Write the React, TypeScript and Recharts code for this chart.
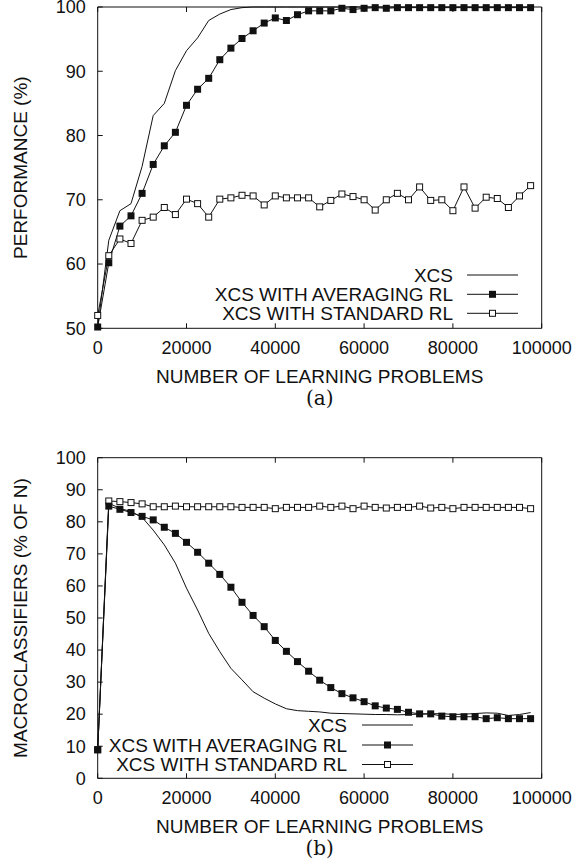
import React from 'react';
import { LineChart, Line, XAxis, YAxis } from 'recharts';

const X_STEPS = [
  0, 2500, 5000, 7500, 10000, 12500, 15000, 17500, 20000, 22500,
  25000, 27500, 30000, 32500, 35000, 37500, 40000, 42500, 45000, 47500,
  50000, 52500, 55000, 57500, 60000, 62500, 65000, 67500, 70000, 72500,
  75000, 77500, 80000, 82500, 85000, 87500, 90000, 92500, 95000, 97500,
];

const X_TICKS = [0, 20000, 40000, 60000, 80000, 100000];
const Y_TICKS_A = [50, 60, 70, 80, 90, 100];
const Y_TICKS_B = [0, 10, 20, 30, 40, 50, 60, 70, 80, 90, 100];

// (a) performance
const XCS_A = [
  50.2, 63.7, 68.3, 69.4, 75.2, 83.1, 85.0, 90.1, 93.2, 95.2,
  97.9, 98.9, 99.6, 99.9, 100, 100, 100, 100, 100, 100,
  100, 100, 100, 100, 100, 100, 100, 100, 100, 100,
  100, 100, 100, 100, 100, 100, 100, 100, 100, 100,
];
const AVG_A = [
  50.2, 60.2, 65.9, 67.5, 71.0, 75.5, 78.4, 80.5, 84.7, 87.2,
  88.9, 91.8, 93.6, 95.1, 96.3, 97.5, 98.3, 97.9, 98.8, 99.4,
  99.4, 99.4, 99.8, 99.6, 99.8, 99.9, 99.8, 99.9, 99.9, 99.9,
  99.9, 99.9, 99.9, 99.9, 99.9, 99.9, 99.9, 99.9, 99.9, 99.9,
];
const STD_A = [
  52.0, 61.3, 63.9, 63.2, 66.8, 67.3, 68.8, 67.7, 70.1, 69.4,
  67.3, 70.1, 70.3, 70.7, 70.6, 69.2, 70.6, 70.3, 70.3, 70.3,
  68.9, 69.9, 70.9, 70.5, 70.0, 68.4, 70.0, 71.0, 70.0, 72.0,
  69.9, 70.0, 68.3, 72.0, 68.7, 70.4, 70.2, 68.8, 70.6, 72.2,
];

// (b) macroclassifiers
const XCS_B = [
  8.9, 85.8, 84.2, 83.2, 81.4, 77.4, 72.8, 67.1, 59.3, 52.5,
  45.2, 39.5, 34.3, 30.7, 27.0, 25.0, 23.2, 21.7, 21.1, 20.9,
  20.7, 20.3, 20.2, 20.1, 20.0, 19.9, 19.9, 19.8, 19.9, 20.0,
  20.1, 20.2, 19.9, 20.0, 20.2, 20.4, 20.3, 19.6, 19.9, 20.5,
];
const AVG_B = [
  8.9, 84.9, 83.9, 82.9, 81.7, 80.6, 78.3, 76.4, 73.6, 70.5,
  67.1, 63.6, 59.6, 54.9, 50.8, 47.3, 43.0, 39.6, 36.4, 33.4,
  30.6, 28.3, 26.4, 25.1, 23.9, 22.6, 21.9, 21.5, 20.6, 20.1,
  20.1, 19.4, 19.2, 19.2, 19.2, 18.6, 18.9, 18.6, 18.6, 18.6,
];
const STD_B = [
  8.9, 86.5, 86.3, 86.0, 85.6, 84.7, 84.7, 84.9, 84.7, 84.7,
  84.7, 84.7, 84.7, 84.5, 84.5, 84.5, 84.1, 84.5, 84.5, 84.5,
  84.9, 84.5, 84.9, 84.1, 84.9, 84.5, 84.3, 84.5, 84.5, 84.9,
  84.3, 84.5, 84.1, 84.5, 84.5, 84.5, 84.5, 84.5, 84.5, 84.1,
];

const SERIES_NAMES = ['XCS', 'XCS WITH AVERAGING RL', 'XCS WITH STANDARD RL'];

const SANS = '"Liberation Sans", Arial, Helvetica, sans-serif';
const SERIF = '"DejaVu Serif", "Liberation Serif", serif';
const INK = '#111';
const TICK_FS = 18;
const LABEL_FS = 19;
const TICK_LEN = 5;

const dataA = X_STEPS.map((x, i) => ({ x, xcs: XCS_A[i], avg: AVG_A[i], std: STD_A[i] }));
const dataB = X_STEPS.map((x, i) => ({ x, xcs: XCS_B[i], avg: AVG_B[i], std: STD_B[i] }));

const BottomTick = (p: any) => (
  <g>
    <line x1={p.x} y1={p.y} x2={p.x} y2={p.y - TICK_LEN} stroke={INK} strokeWidth={1} />
    <text x={p.x} y={p.y + 25.5} textAnchor="middle" fontSize={TICK_FS} fontFamily={SANS} fill={INK}>
      {p.payload.value}
    </text>
  </g>
);
const TopTick = (p: any) => (
  <line x1={p.x} y1={p.y} x2={p.x} y2={p.y + TICK_LEN} stroke={INK} strokeWidth={1} />
);
const LeftTick = (p: any) => (
  <g>
    <line x1={p.x} y1={p.y} x2={p.x + TICK_LEN} y2={p.y} stroke={INK} strokeWidth={1} />
    <text x={p.x - 12} y={p.y} dy="0.35em" textAnchor="end" fontSize={TICK_FS} fontFamily={SANS} fill={INK}>
      {p.payload.value}
    </text>
  </g>
);
const RightTick = (p: any) => (
  <line x1={p.x} y1={p.y} x2={p.x - TICK_LEN} y2={p.y} stroke={INK} strokeWidth={1} />
);

const makeXTitle = (sub: string) => (props: any) => {
  const vb = props.viewBox || {};
  const cx = vb.x + vb.width / 2;
  return (
    <g>
      <text x={cx} y={vb.y + 55} textAnchor="middle" fontSize={LABEL_FS} fontFamily={SANS} fill={INK}>
        NUMBER OF LEARNING PROBLEMS
      </text>
      <text x={cx} y={vb.y + 77} textAnchor="middle" fontSize={20} fontFamily={SERIF} fill={INK}>
        {sub}
      </text>
    </g>
  );
};

const makeYTitle = (title: string) => (props: any) => {
  const vb = props.viewBox || {};
  const cy = vb.y + vb.height / 2;
  const x = 20;
  return (
    <text
      x={x}
      y={cy}
      dy="0.35em"
      transform={`rotate(-90, ${x}, ${cy})`}
      textAnchor="middle"
      fontSize={LABEL_FS}
      fontFamily={SANS}
      fill={INK}
    >
      {title}
    </text>
  );
};

const FilledSquare = (p: any) => {
  if (p.cx == null || p.cy == null) return <g key={`f-${p.index}`} />;
  return <rect key={`f-${p.index}`} x={p.cx - 3.5} y={p.cy - 3.5} width={7} height={7} fill={INK} />;
};
const OpenSquare = (p: any) => {
  if (p.cx == null || p.cy == null) return <g key={`o-${p.index}`} />;
  return (
    <rect key={`o-${p.index}`} x={p.cx - 3} y={p.cy - 3} width={6} height={6} fill="#fff" stroke={INK} strokeWidth={1} />
  );
};

type PanelProps = {
  data: any[];
  height: number;
  margin: { top: number; right: number; bottom: number; left: number };
  yDomain: [number, number];
  yTicks: number[];
  yTitle: string;
  sub: string;
};

const Panel = ({ data, height, margin, yDomain, yTicks, yTitle, sub }: PanelProps) => (
  <LineChart width={576} height={height} data={data} margin={margin}>
    <XAxis
      dataKey="x"
      type="number"
      domain={[0, 100000]}
      ticks={X_TICKS}
      interval={0}
      height={30}
      tickSize={0}
      tickMargin={0}
      tickLine={false}
      axisLine={{ stroke: INK, strokeWidth: 1 }}
      tick={<BottomTick />}
      label={makeXTitle(sub)}
    />
    <XAxis
      xAxisId="top"
      orientation="top"
      dataKey="x"
      type="number"
      domain={[0, 100000]}
      ticks={X_TICKS}
      interval={0}
      height={1}
      tickSize={0}
      tickMargin={0}
      tickLine={false}
      axisLine={{ stroke: INK, strokeWidth: 1 }}
      tick={<TopTick />}
    />
    <YAxis
      type="number"
      domain={yDomain}
      ticks={yTicks}
      interval={0}
      width={97.7}
      tickSize={0}
      tickMargin={0}
      tickLine={false}
      axisLine={{ stroke: INK, strokeWidth: 1 }}
      tick={<LeftTick />}
      label={makeYTitle(yTitle)}
    />
    <YAxis
      yAxisId="right"
      orientation="right"
      type="number"
      domain={yDomain}
      ticks={yTicks}
      interval={0}
      width={1}
      tickSize={0}
      tickMargin={0}
      tickLine={false}
      axisLine={{ stroke: INK, strokeWidth: 1 }}
      tick={<RightTick />}
    />
    <Line type="linear" dataKey="std" stroke={INK} strokeWidth={1} dot={OpenSquare} activeDot={false} isAnimationActive={false} />
    <Line type="linear" dataKey="xcs" stroke={INK} strokeWidth={1} dot={false} activeDot={false} isAnimationActive={false} />
    <Line type="linear" dataKey="avg" stroke={INK} strokeWidth={1} dot={FilledSquare} activeDot={false} isAnimationActive={false} />
  </LineChart>
);

const LegendRows = ({ textRight, lineX1, lineX2, rows }: { textRight: number; lineX1: number; lineX2: number; rows: number[] }) => {
  const mid = (lineX1 + lineX2) / 2;
  return (
    <g>
      {SERIES_NAMES.map((name, i) => (
        <g key={name}>
          <text x={textRight} y={rows[i]} dy="0.35em" textAnchor="end" fontSize={LABEL_FS} fontFamily={SANS} fill={INK}>
            {name}
          </text>
          <line x1={lineX1} y1={rows[i]} x2={lineX2} y2={rows[i]} stroke={INK} strokeWidth={1} />
          {i === 1 && <rect x={mid - 3.5} y={rows[i] - 3.5} width={7} height={7} fill={INK} />}
          {i === 2 && <rect x={mid - 3} y={rows[i] - 3} width={6} height={6} fill="#fff" stroke={INK} strokeWidth={1} />}
        </g>
      ))}
    </g>
  );
};

export default function App() {
  return (
    <div style={{ position: 'absolute', left: 0, top: 0, width: 576, height: 867, background: '#fff' }}>
      <div style={{ position: 'absolute', left: 0, top: 0 }}>
        <Panel
          data={dataA}
          height={420}
          margin={{ top: 6, right: 33.3, bottom: 61.7, left: 0 }}
          yDomain={[50, 100]}
          yTicks={Y_TICKS_A}
          yTitle="PERFORMANCE (%)"
          sub="(a)"
        />
      </div>
      <div style={{ position: 'absolute', left: 0, top: 420 }}>
        <Panel
          data={dataB}
          height={447}
          margin={{ top: 36.7, right: 33.3, bottom: 58.7, left: 0 }}
          yDomain={[0, 100]}
          yTicks={Y_TICKS_B}
          yTitle="MACROCLASSIFIERS (% OF N)"
          sub="(b)"
        />
      </div>
      <svg
        width={576}
        height={867}
        style={{ position: 'absolute', left: 0, top: 0, pointerEvents: 'none' }}
      >
        <LegendRows textRight={453} lineX1={467} lineX2={518} rows={[275, 294.3, 313.3]} />
        <LegendRows textRight={347} lineX1={362} lineX2={413} rows={[725, 745, 764.5]} />
      </svg>
    </div>
  );
}
